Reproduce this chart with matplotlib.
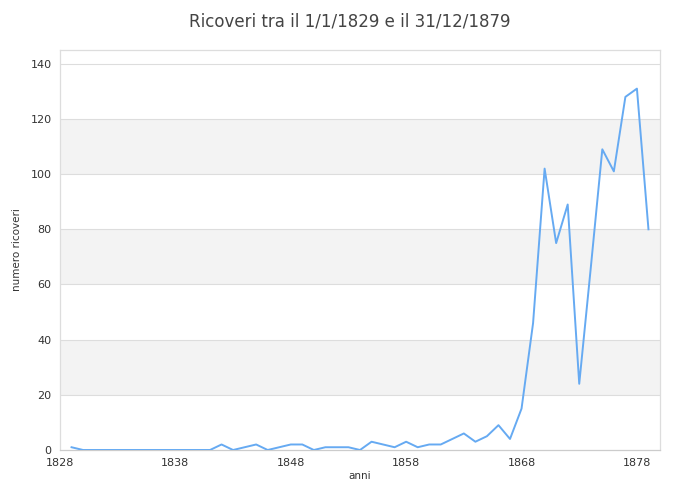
import matplotlib.pyplot as plt

years = list(range(1829, 1880))
ricoveri = [1, 0, 0, 0, 0, 0, 0, 0, 0, 0, 0, 0, 0, 2, 0, 1, 2, 0, 1, 2,
            2, 0, 1, 1, 1, 0, 3, 2, 1, 3, 1, 2, 2, 4, 6, 3, 5, 9, 4, 15,
            46, 102, 75, 89, 24, 66, 109, 101, 128, 131, 80]
xticks = [1828, 1838, 1848, 1858, 1868, 1878]
yticks = [0, 20, 40, 60, 80, 100, 120, 140]

fig = plt.figure(figsize=(7, 5), dpi=100)
ax = fig.add_axes([60 / 700, 0.1, 600 / 700, 0.8])

# alternating bands
for i in range(len(yticks) - 1):
    if i % 2 == 1:
        ax.axhspan(yticks[i], yticks[i + 1], color='#f3f3f3', zorder=0, lw=0)
for y in yticks[1:]:
    ax.axhline(y, color='#dddddd', lw=0.8, zorder=1)

ax.plot(years, ricoveri, color='#66aaf2', lw=1.4, zorder=3)

ax.set_xlim(1828, 1880)
ax.set_ylim(0, 145)
ax.set_xticks(xticks)
ax.set_yticks(yticks)
ax.tick_params(length=0, labelsize=8, labelcolor='#333333', pad=6)
for s in ax.spines.values():
    s.set_color('#dddddd')
    s.set_linewidth(0.9)
ax.spines['bottom'].set_color('#cccccc')

ax.set_xlabel('anni', fontsize=7.5, color='#333333', labelpad=2)
ax.set_ylabel('numero ricoveri', fontsize=7.5, color='#333333', labelpad=6)
fig.suptitle('Ricoveri tra il 1/1/1829 e il 31/12/1879', y=0.975, fontsize=12,
             color='#444444')

fig.savefig('out.png', dpi=100)
